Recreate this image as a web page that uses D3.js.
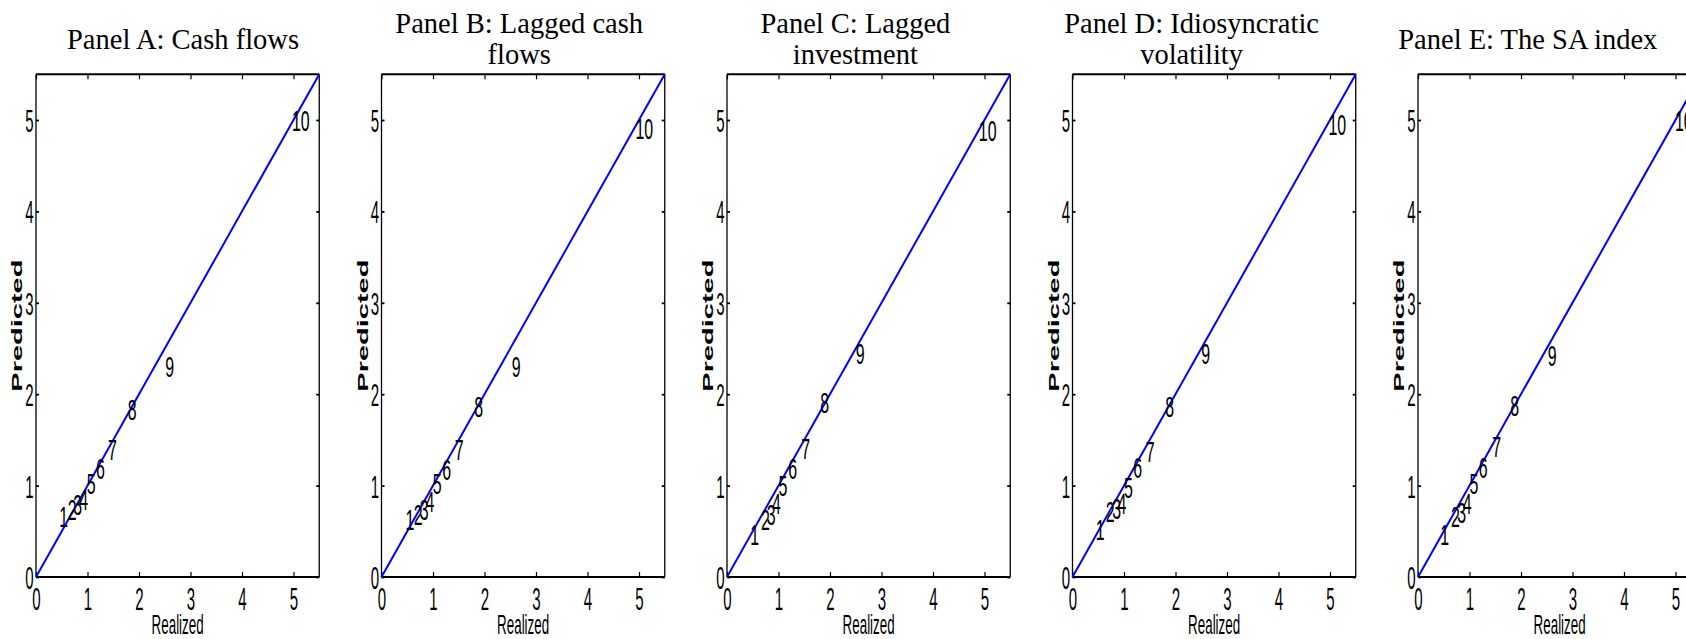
<!DOCTYPE html>
<html><head><meta charset="utf-8">
<script src="https://cdn.jsdelivr.net/npm/d3@7"></script>
<style>body{margin:0;background:#fff;overflow:hidden}</style>
</head><body>
<svg id="chart" width="1686" height="639"></svg>
<script>
// ---- data ----
const panelTitles = [
  ["Panel A: Cash flows"],
  ["Panel B: Lagged cash", "flows"],
  ["Panel C: Lagged", "investment"],
  ["Panel D: Idiosyncratic", "volatility"],
  ["Panel E: The SA index"]
];
const portfolioLabels = ["1","2","3","4","5","6","7","8","9","10"];
const realizedA  = [0.45, 0.615, 0.725, 0.84, 0.984, 1.165, 1.40, 1.78, 2.51, 4.97];
const predictedA = [0.66, 0.733, 0.788, 0.842, 1.025, 1.19, 1.397, 1.835, 2.30, 4.99];
const realizedB  = [0.466, 0.628, 0.744, 0.854, 0.996, 1.18, 1.42, 1.80, 2.53, 4.93];
const predictedB = [0.624, 0.678, 0.733, 0.824, 1.025, 1.178, 1.39, 1.87, 2.30, 4.91];
const realizedC  = [0.452, 0.66, 0.77, 0.874, 1.0, 1.19, 1.44, 1.81, 2.50, 4.89];
const predictedC = [0.46, 0.624, 0.678, 0.806, 0.996, 1.19, 1.41, 1.91, 2.44, 4.88];
const realizedD  = [0.45, 0.647, 0.77, 0.874, 1.0, 1.18, 1.42, 1.80, 2.50, 4.97];
const predictedD = [0.514, 0.715, 0.75, 0.80, 0.98, 1.2, 1.37, 1.87, 2.45, 4.95];
const realizedE  = [0.434, 0.64, 0.76, 0.87, 1.0, 1.18, 1.44, 1.79, 2.52, 4.99];
const predictedE = [0.467, 0.66, 0.70, 0.806, 1.025, 1.2, 1.425, 1.88, 2.42, 4.99];
const axisTicks = [0, 1, 2, 3, 4, 5];
const axisDomain = [0, 5.5];
const fitLine = [0, 5.5];
const xLabel = "Realized";
const yLabel = "Predicted";

const panelData = [
  [realizedA, predictedA], [realizedB, predictedB], [realizedC, predictedC],
  [realizedD, predictedD], [realizedE, predictedE]
];

// ---- layout ----
const svg = d3.select("#chart");
const plotLeft0 = 36, panelStep = 345.5, plotW = 283.25, plotTop = 74.3, plotBottom = 577;
const titleX0 = 183, titleStep = 336.2;
const numFont = "'Liberation Sans', Arial, Helvetica, sans-serif";
const tickSqueeze = 0.47;

panelData.forEach((pd, i) => {
  const left = plotLeft0 + i * panelStep;
  const x = d3.scaleLinear().domain(axisDomain).range([left, left + plotW]);
  const y = d3.scaleLinear().domain(axisDomain).range([plotBottom, plotTop]);
  const g = svg.append("g");

  // title
  const tLines = panelTitles[i];
  const tx = titleX0 + i * titleStep;
  const baselines = tLines.length === 1 ? [48.5] : [32.5, 64];
  tLines.forEach((t, k) => {
    g.append("text").attr("x", tx).attr("y", baselines[k])
      .attr("text-anchor", "middle")
      .style("font-family", "'Liberation Serif', 'Times New Roman', serif")
      .style("font-size", "28.5px").attr("fill", "#000").text(t);
  });

  // axes: bottom (ticks inward)
  const ax = g.append("g").attr("transform", `translate(0,${plotBottom})`)
    .call(d3.axisBottom(x).tickValues(axisTicks).tickSizeInner(-5).tickSizeOuter(0).tickFormat(d3.format("d")));
  ax.select(".domain").remove();
  ax.selectAll(".tick line").attr("stroke", "#000").attr("stroke-width", 1.2);
  ax.selectAll(".tick text")
    .attr("y", 0).attr("dy", 0)
    .attr("transform", `translate(0,33) scale(${tickSqueeze},1)`)
    .style("font-family", numFont).style("font-size", "32px").attr("fill", "#000");

  // top ticks
  const axT = g.append("g").attr("transform", `translate(0,${plotTop})`)
    .call(d3.axisTop(x).tickValues(axisTicks).tickSizeInner(-5).tickSizeOuter(0).tickFormat(""));
  axT.select(".domain").remove();
  axT.selectAll(".tick line").attr("stroke", "#000").attr("stroke-width", 1.2);

  // left axis
  const ay = g.append("g").attr("transform", `translate(${left},0)`)
    .call(d3.axisLeft(y).tickValues(axisTicks).tickSizeInner(-3).tickSizeOuter(0).tickFormat(d3.format("d")));
  ay.select(".domain").remove();
  ay.selectAll(".tick line").attr("stroke", "#000").attr("stroke-width", 1.8);
  ay.selectAll(".tick text")
    .attr("x", 0).attr("dy", "0.36em")
    .attr("transform", `translate(-2.5,0) scale(${tickSqueeze},1)`)
    .attr("text-anchor", "end")
    .style("font-family", numFont).style("font-size", "32px").attr("fill", "#000");

  // right ticks
  const ayR = g.append("g").attr("transform", `translate(${left + plotW},0)`)
    .call(d3.axisRight(y).tickValues(axisTicks).tickSizeInner(-3).tickSizeOuter(0).tickFormat(""));
  ayR.select(".domain").remove();
  ayR.selectAll(".tick line").attr("stroke", "#000").attr("stroke-width", 1.8);

  // frame
  const [x0, x1] = x.range();
  g.append("line").attr("x1", x0).attr("x2", x1).attr("y1", plotTop).attr("y2", plotTop)
    .attr("stroke", "#000").attr("stroke-width", 2);
  g.append("line").attr("x1", x0).attr("x2", x1).attr("y1", plotBottom).attr("y2", plotBottom)
    .attr("stroke", "#000").attr("stroke-width", 2);
  g.append("line").attr("x1", x0).attr("x2", x0).attr("y1", plotTop).attr("y2", plotBottom)
    .attr("stroke", "#000").attr("stroke-width", 1.3);
  g.append("line").attr("x1", x1).attr("x2", x1).attr("y1", plotTop).attr("y2", plotBottom)
    .attr("stroke", "#000").attr("stroke-width", 1.3);

  // 45-degree line
  const line = d3.line().x(d => x(d)).y(d => y(d));
  g.append("path").datum(fitLine).attr("d", line)
    .attr("fill", "none").attr("stroke", "#0000ff").attr("stroke-width", 2);

  // portfolio labels
  const [rv, pv] = pd;
  g.selectAll("text.pl").data(portfolioLabels).enter().append("text")
    .attr("class", "pl")
    .attr("transform", (d, j) => `translate(${x(rv[j])},${y(pv[j])}) scale(0.55,1)`)
    .attr("dy", "0.36em")
    .attr("text-anchor", "start")
    .style("font-family", numFont).style("font-size", "29px").attr("fill", "#000")
    .text(d => d);

  // axis labels
  const cx = (x0 + x1) / 2;
  g.append("text")
    .attr("transform", `translate(${cx},634) scale(0.47,1)`)
    .attr("text-anchor", "middle")
    .style("font-family", numFont).style("font-size", "28.5px").attr("fill", "#000")
    .text(xLabel);
  g.append("text")
    .attr("transform", `translate(${left - 14},${(plotTop + plotBottom) / 2}) scale(0.5,1) rotate(-90)`)
    .attr("text-anchor", "middle")
    .style("font-family", numFont).style("font-size", "29px").style("font-weight", "bold").attr("fill", "#000")
    .text(yLabel);
});
</script>
</body></html>
